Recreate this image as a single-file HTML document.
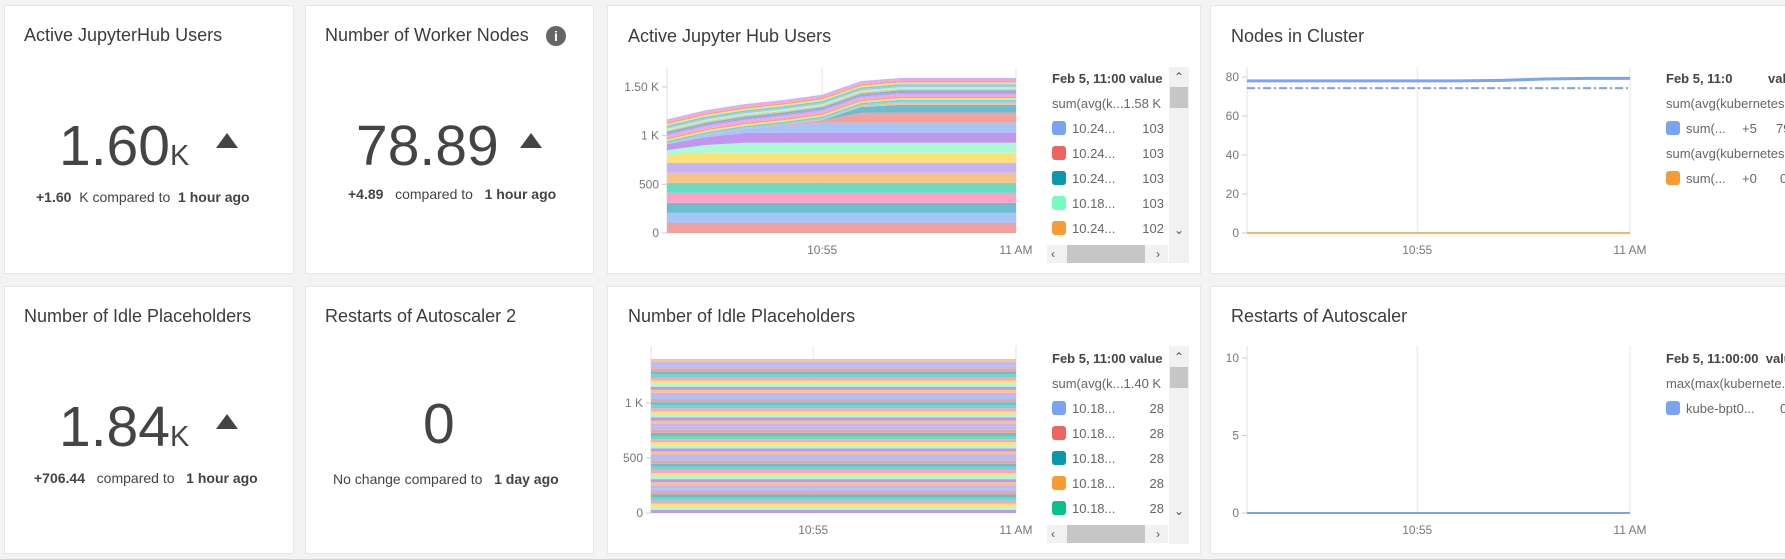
<!DOCTYPE html>
<html><head><meta charset="utf-8">
<style>
*{box-sizing:border-box;margin:0;padding:0}
body{width:1785px;height:559px;background:#f3f3f3;font-family:"Liberation Sans",sans-serif;position:relative;overflow:hidden;color:#333}
.card{position:absolute;background:#fff;border:1px solid #e6e6e6}
.t{position:absolute;font-size:18px;color:#3c3c3c;white-space:nowrap}
.big{position:absolute;font-size:57px;color:#444;white-space:nowrap;line-height:1}
.big small{font-size:29px}
.tri{position:absolute;width:0;height:0;border-left:11px solid transparent;border-right:11px solid transparent;border-bottom:15px solid #444}
.sub{position:absolute;font-size:14px;color:#444;white-space:nowrap}
.sub b{font-weight:bold}
.lg{position:absolute;font-size:13px;color:#666;white-space:nowrap;overflow:hidden}
.lg .h{font-weight:bold;color:#444}
.sw{display:inline-block;width:14px;height:14px;border-radius:3px;vertical-align:-2px;margin-right:6px}
.row{position:absolute;height:20px;line-height:20px}
.sb{position:absolute;background:#f1f1f1}
.th{position:absolute;background:#c6c6c6}
.ar{position:absolute;font-size:12px;color:#555;line-height:1}
svg{position:absolute;left:0;top:0}
text{font-family:"Liberation Sans",sans-serif}
</style></head><body>
<div class="card" style="left:4px;top:5px;width:290px;height:269px"></div>
<div class="card" style="left:305px;top:5px;width:289px;height:269px"></div>
<div class="card" style="left:607px;top:5px;width:594px;height:269px"></div>
<div class="card" style="left:1210px;top:5px;width:590px;height:269px"></div>
<div class="card" style="left:4px;top:286px;width:290px;height:268px"></div>
<div class="card" style="left:305px;top:286px;width:289px;height:268px"></div>
<div class="card" style="left:607px;top:286px;width:594px;height:268px"></div>
<div class="card" style="left:1210px;top:286px;width:590px;height:268px"></div>

<div class="t" style="left:24px;top:25px">Active JupyterHub Users</div>
<div class="big" style="left:59px;top:118px">1.60<small>K</small></div>
<div class="tri" style="left:216px;top:133px"></div>
<div class="sub" style="left:36px;top:189px"><b>+1.60</b>&nbsp;&nbsp;K compared to&nbsp;&nbsp;<b>1 hour ago</b></div>

<div class="t" style="left:325px;top:25px">Number of Worker Nodes</div>
<div style="position:absolute;left:546px;top:26px;width:20px;height:20px;border-radius:50%;background:#666;color:#fff;font-size:14px;font-weight:bold;text-align:center;line-height:20px">i</div>
<div class="big" style="left:356px;top:118px">78.89</div>
<div class="tri" style="left:520px;top:133px"></div>
<div class="sub" style="left:348px;top:186px"><b>+4.89</b>&nbsp;&nbsp;&nbsp;compared to&nbsp;&nbsp;&nbsp;<b>1 hour ago</b></div>

<div class="t" style="left:24px;top:306px">Number of Idle Placeholders</div>
<div class="big" style="left:59px;top:399px">1.84<small>K</small></div>
<div class="tri" style="left:216px;top:414px"></div>
<div class="sub" style="left:34px;top:470px"><b>+706.44</b>&nbsp;&nbsp;&nbsp;compared to&nbsp;&nbsp;&nbsp;<b>1 hour ago</b></div>

<div class="t" style="left:325px;top:306px">Restarts of Autoscaler 2</div>
<div class="big" style="left:423px;top:396px">0</div>
<div class="sub" style="left:333px;top:471px">No change compared to&nbsp;&nbsp;&nbsp;<b>1 day ago</b></div>

<div class="t" style="left:628px;top:26px">Active Jupyter Hub Users</div>
<div class="t" style="left:1231px;top:26px">Nodes in Cluster</div>
<div class="t" style="left:628px;top:306px">Number of Idle Placeholders</div>
<div class="t" style="left:1231px;top:306px">Restarts of Autoscaler</div>

<!-- legend card3 -->
<div class="lg" style="left:1052px;top:69px;width:112px;height:170px">
 <div class="row h" style="top:0;left:0">Feb 5, 11:00 value</div>
 <div class="row" style="top:25px;left:0">sum(avg(k...1.58 K</div>
 <div class="row" style="top:50px;left:0;width:112px"><span class="sw" style="background:#7aa3f5"></span>10.24...<span style="position:absolute;right:0">103</span></div>
 <div class="row" style="top:75px;left:0;width:112px"><span class="sw" style="background:#ee6461"></span>10.24...<span style="position:absolute;right:0">103</span></div>
 <div class="row" style="top:100px;left:0;width:112px"><span class="sw" style="background:#0a98ae"></span>10.24...<span style="position:absolute;right:0">103</span></div>
 <div class="row" style="top:125px;left:0;width:112px"><span class="sw" style="background:#79fbc0"></span>10.18...<span style="position:absolute;right:0">103</span></div>
 <div class="row" style="top:150px;left:0;width:112px"><span class="sw" style="background:#f89b35"></span>10.24...<span style="position:absolute;right:0">102</span></div>
</div>
<div class="sb" style="left:1169px;top:67px;width:20px;height:196px"></div>
<div class="th" style="left:1170px;top:87px;width:18px;height:21px"></div>
<div class="ar" style="left:1174px;top:71px">&#8963;</div><div class="ar" style="left:1174px;top:224px">&#8964;</div>
<div class="sb" style="left:1047px;top:245px;width:121px;height:18px"></div>
<div class="th" style="left:1067px;top:245px;width:78px;height:18px"></div>
<div class="ar" style="left:1051px;top:248px">&#8249;</div><div class="ar" style="left:1156px;top:248px">&#8250;</div>

<!-- legend card7 -->
<div class="lg" style="left:1052px;top:349px;width:112px;height:170px">
 <div class="row h" style="top:0;left:0">Feb 5, 11:00 value</div>
 <div class="row" style="top:25px;left:0">sum(avg(k...1.40 K</div>
 <div class="row" style="top:50px;left:0;width:112px"><span class="sw" style="background:#7aa3f5"></span>10.18...<span style="position:absolute;right:0">28</span></div>
 <div class="row" style="top:75px;left:0;width:112px"><span class="sw" style="background:#ee6461"></span>10.18...<span style="position:absolute;right:0">28</span></div>
 <div class="row" style="top:100px;left:0;width:112px"><span class="sw" style="background:#0a98ae"></span>10.18...<span style="position:absolute;right:0">28</span></div>
 <div class="row" style="top:125px;left:0;width:112px"><span class="sw" style="background:#f89b35"></span>10.18...<span style="position:absolute;right:0">28</span></div>
 <div class="row" style="top:150px;left:0;width:112px"><span class="sw" style="background:#0ac18e"></span>10.18...<span style="position:absolute;right:0">28</span></div>
</div>
<div class="sb" style="left:1169px;top:346px;width:20px;height:198px"></div>
<div class="th" style="left:1170px;top:367px;width:18px;height:21px"></div>
<div class="ar" style="left:1174px;top:351px">&#8963;</div><div class="ar" style="left:1174px;top:505px">&#8964;</div>
<div class="sb" style="left:1047px;top:525px;width:121px;height:18px"></div>
<div class="th" style="left:1067px;top:525px;width:78px;height:18px"></div>
<div class="ar" style="left:1051px;top:528px">&#8249;</div><div class="ar" style="left:1156px;top:528px">&#8250;</div>

<!-- legend card4 -->
<div class="lg" style="left:1666px;top:69px;width:119px;height:130px">
 <div class="row h" style="top:0;left:0">Feb 5, 11:0</div><div class="row h" style="top:0;left:102px">value</div>
 <div class="row" style="top:25px;left:0">sum(avg(kubernetes...</div>
 <div class="row" style="top:50px;left:0"><span class="sw" style="background:#7aa3f5"></span>sum(...</div><div class="row" style="top:50px;left:76px">+5</div><div class="row" style="top:50px;left:110px">79</div>
 <div class="row" style="top:75px;left:0">sum(avg(kubernetes...</div>
 <div class="row" style="top:100px;left:0"><span class="sw" style="background:#f89b35"></span>sum(...</div><div class="row" style="top:100px;left:76px">+0</div><div class="row" style="top:100px;left:114px">0</div>
</div>
<!-- legend card8 -->
<div class="lg" style="left:1666px;top:349px;width:119px;height:80px">
 <div class="row h" style="top:0;left:0">Feb 5, 11:00:00&nbsp; value</div>
 <div class="row" style="top:25px;left:0">max(max(kubernete...</div>
 <div class="row" style="top:50px;left:0"><span class="sw" style="background:#7aa3f5"></span>kube-bpt0...</div><div class="row" style="top:50px;left:114px">0</div>
</div>

<svg id="charts" width="1785" height="559"></svg>
<script>
// shared time axis: 10:51 .. 11:00, one point per minute
const timeLabels = ['10:51','10:52','10:53','10:54','10:55','10:56','10:57','10:58','10:59','11:00'];
const xTickIdx = [4, 9];
const xTickText = ['10:55', '11 AM'];

// Active Jupyter Hub Users (stacked areas)
const usersBase1 = [103,103,103,103,103,103,103,103,103,103];
const usersBase2 = [103,103,103,103,103,103,103,103,103,103];
const usersBase3 = [103,103,103,103,103,103,103,103,103,103];
const usersBase4 = [103,103,103,103,103,103,103,103,103,103];
const usersBase5 = [103,103,103,103,103,103,103,103,103,103];
const usersBase6 = [103,103,103,103,103,103,103,103,103,103];
const usersBase7 = [103,103,103,103,103,103,103,103,103,103];
const usersYellow = [80,103,103,103,103,103,103,103,103,103];
const usersMint = [50,80,103,103,103,103,103,103,103,103];
const usersPurple = [60,80,100,103,103,103,103,103,103,103];
const usersBlue = [0,20,40,70,103,103,103,103,103,103];
const usersRed = [0,0,0,10,20,100,103,103,103,103];
const usersTeal = [0,0,0,0,5,60,80,80,80,80];
const usersOrange = [0,0,0,0,5,10,20,20,20,20];
const usersStripe = [16,16,16,16,16,16,16,16,16,16];
const usersTicks = [0, 500, 1000, 1500];
const usersTickText = ['0','500','1 K','1.50 K'];

// Nodes in Cluster
const nodesSolid = [78,78,78,78,78,78,78.3,79,79.3,79.3];
const nodesDash = [74.3,74.3,74.3,74.3,74.3,74.3,74.3,74.3,74.3,74.3];
const nodesOrange = [0,0,0,0,0,0,0,0,0,0];
const nodesTicks = [0,20,40,60,80];

// Idle placeholders: 50 series, constant 28 each
const idleValues = [28,28,28,28,28,28,28,28,28,28,28,28,28,28,28,28,28,28,28,28,28,28,28,28,28,28,28,28,28,28,28,28,28,28,28,28,28,28,28,28,28,28,28,28,28,28,28,28,28,28];
const idleTicks = [0,500,1000];
const idleTickText = ['0','500','1 K'];

// Restarts of autoscaler
const restarts = [0,0,0,0,0,0,0,0,0,0];
const restartTicks = [0,5,10];

const svg = document.getElementById('charts');
const NS = 'http://www.w3.org/2000/svg';
function mk(tag, attrs){const e=document.createElementNS(NS,tag);for(const k in attrs)e.setAttribute(k,attrs[k]);svg.appendChild(e);return e;}

function axes(x0,x1,yb,yt,ticks,tickText,yf,name){
  const ax = mk('line',{x1:x0,y1:yt,x2:x0,y2:yb,stroke:'#e0e0e0'});
  
  
  const rb = mk('line',{x1:x1,y1:yt,x2:x1,y2:yb,stroke:'#e6e6e6'});
  
  
  ticks.forEach((v,i)=>{
    const y=yf(v);
    const tl = mk('line',{x1:x0-5,y1:y,x2:x0,y2:y,stroke:'#ccc'});
    
    
    const t = mk('text',{x:x0-8,y:y+4,'text-anchor':'end','font-size':12,fill:'#777'});
    t.textContent = tickText[i];
    
    
  });
  const xf = i=>x0+(x1-x0)*i/(timeLabels.length-1);
  xTickIdx.forEach((ti,k)=>{
    const x=xf(ti);
    const g = mk('line',{x1:x,y1:yt,x2:x,y2:yb,stroke:'#e6e6e6'});
    
    
    const t = mk('text',{x:x,y:yb+21,'text-anchor':'middle','font-size':12,fill:'#777'});
    t.textContent = xTickText[k];
    
    
  });
  return xf;
}

function stacked(seriesList, colors, xf, yf, name){
  const n = timeLabels.length;
  let base = new Array(n).fill(0);
  seriesList.forEach((s,si)=>{
    const top = base.map((b,i)=>b+s[i]);
    let pts=[];
    for(let i=0;i<n;i++)pts.push(xf(i)+','+yf(top[i]));
    for(let i=n-1;i>=0;i--)pts.push(xf(i)+','+yf(base[i]));
    const p = mk('polygon',{points:pts.join(' '),fill:colors[si%colors.length],stroke:'none'});
    
    
    base = top;
  });
}

function line(vals, xf, yf, attrs, name){
  const pts = vals.map((v,i)=>xf(i)+','+yf(v)).join(' ');
  const l = mk('polyline',Object.assign({points:pts,fill:'none'},attrs));
  
  
}

const pastel = ['#f4a19d','#a9c5f8','#6cbdcf','#ffa2c9','#6adcbf','#fbc38b','#c6b4f6','#fde277','#aefad6','#c296ec'];

// Chart 1: Active Jupyter Hub Users
{
  const yf = v=>233 - v/500*48.7;
  const xf = axes(667,1016,233,67,usersTicks,usersTickText,yf,'active-users');
  const list = [usersBase1,usersBase2,usersBase3,usersBase4,usersBase5,usersBase6,usersBase7,usersYellow,usersMint,usersPurple,usersBlue,usersRed,usersTeal,usersOrange];
  const cols = ['#f4a19d','#a9c5f8','#6cbdcf','#ffa2c9','#6adcbf','#fbc38b','#c6b4f6','#fde277','#aefad6','#c296ec','#a9c5f8','#f4a19d','#6cbdcf','#fbc38b'];
  for(let k=0;k<16;k++){ list.push(usersStripe); cols.push(pastel[(k*3+1)%pastel.length]); }
  stacked(list, cols, xf, yf, 'active-users');
}
// Chart 2: Nodes in Cluster
{
  const yf = v=>233 - v/80*156;
  const xf = axes(1247,1630,233,67,nodesTicks,nodesTicks.map(String),yf,'nodes');
  line(nodesSolid,xf,yf,{stroke:'#7aa3f5','stroke-width':3},'nodes-total-line');
  line(nodesDash,xf,yf,{stroke:'#7aa3f5','stroke-width':2,'stroke-dasharray':'8,3,2,3'},'nodes-dashdot-line');
  line(nodesOrange,xf,yf,{stroke:'#f89b35','stroke-width':1.5},'nodes-orange-line');
}
// Chart 3: Idle placeholders
{
  const yf = v=>513 - v/500*55;
  const xf = axes(651,1016,513,346,idleTicks,idleTickText,yf,'idle');
  const list = idleValues.map(v=>timeLabels.map(()=>v));
  stacked(list, ['#c296ec','#aefad6','#fde277','#ffa2c9','#6adcbf','#6cbdcf','#f4a19d','#a9c5f8','#c6b4f6','#fbc38b'], xf, yf, 'idle');
}
// Chart 4: Restarts
{
  const yf = v=>513 - v/10*155;
  const xf = axes(1247,1630,513,346,restartTicks,restartTicks.map(String),yf,'restarts');
  line(restarts,xf,yf,{stroke:'#7aa3f5','stroke-width':2},'restarts-line');
}
</script>
</body></html>
